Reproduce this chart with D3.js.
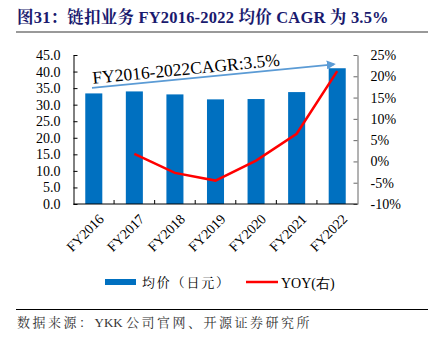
<!DOCTYPE html>
<html><head><meta charset="utf-8">
<script src="https://cdn.jsdelivr.net/npm/d3@7"></script>
<style>body{margin:0;background:#fff}svg{display:block}</style>
</head><body>
<script>
const categories = ["FY2016","FY2017","FY2018","FY2019","FY2020","FY2021","FY2022"];
const avgPrice = [33.4, 34.0, 33.1, 31.6, 31.7, 33.8, 41.0];
const yoy = [null, 1.8, -2.7, -4.5, 0.2, 6.5, 21.2];
const leftTicks = [0,5,10,15,20,25,30,35,40,45];
const rightTicks = [-10,-5,0,5,10,15,20,25];
const titleText = "图31：链扣业务 FY2016-2022 均价 CAGR 为 3.5%";
const cagrText = "FY2016-2022CAGR:3.5%";
const legendBar = "均价（日元）";
const legendLine = "YOY(右)";
const sourceParts = ["数据来源：", "YKK\u00a0", "公司官网、开源证券研究所"];

const W=439,H=342;
const svg=d3.select("body").append("svg").attr("width",W).attr("height",H);
const serif="'Liberation Serif','Times New Roman',serif";
const cjk="'Noto Serif CJK SC','Noto Sans CJK SC',sans-serif";

// title
svg.append("text").attr("x",17).attr("y",23).attr("font-size",16.5).attr("font-weight","bold")
  .attr("fill","#1a1a6e").attr("font-family",serif+","+cjk).attr("letter-spacing",0.2).text(titleText);
svg.append("rect").attr("x",16).attr("y",31).attr("width",412).attr("height",2).attr("fill","#999");

const L=73.5,R=357.5,T=55,B=204;
const x=d3.scaleBand().domain(categories).range([L,R]).paddingInner(0.58).paddingOuter(0.29);
const xb=d3.scaleBand().domain(categories).range([L,R]);
const yL=d3.scaleLinear().domain([0,45]).range([B,T]);
const yR=d3.scaleLinear().domain([-10,25]).range([B,T]);

// bars
svg.selectAll("rect.bar").data(categories).enter().append("rect")
  .attr("x",d=>x(d)).attr("width",x.bandwidth())
  .attr("y",(d,i)=>yL(avgPrice[i])).attr("height",(d,i)=>B-yL(avgPrice[i]))
  .attr("fill","#0070c0");

// left axis
const gl=svg.append("g").attr("transform",`translate(${L},0)`)
  .call(d3.axisLeft(yL).tickValues(leftTicks).tickFormat(d3.format(".1f")).tickSizeInner(-4).tickSizeOuter(0).tickPadding(13));
gl.selectAll("text").attr("font-family",serif).attr("font-size",14).attr("fill","#000");
gl.selectAll("line,path").attr("stroke","#000");

// right axis
const gr=svg.append("g").attr("transform",`translate(${R},0)`)
  .call(d3.axisRight(yR).tickValues(rightTicks).tickFormat(d=>d+"%").tickSizeInner(-4).tickSizeOuter(0).tickPadding(13));
gr.selectAll("text").attr("font-family",serif).attr("font-size",14).attr("fill","#000");
gr.selectAll("line,path").attr("stroke","#666");

// x axis
const gx=svg.append("g").attr("transform",`translate(0,${B})`);
gx.append("line").attr("x1",L).attr("x2",R).attr("stroke","#000");
gx.selectAll("line.t").data(categories.slice(1)).enter().append("line")
  .attr("x1",d=>xb(d)).attr("x2",d=>xb(d)).attr("y1",0).attr("y2",-4).attr("stroke","#000");
gx.selectAll("text").data(categories).enter().append("text")
  .attr("transform",d=>`translate(${xb(d)+xb.bandwidth()/2+4},${9}) rotate(-45)`)
  .attr("text-anchor","end").attr("dy","0.7em").attr("font-family",serif).attr("font-size",14).text(d=>d);

// line
const pts=categories.map((c,i)=>({c,v:yoy[i]})).filter(d=>d.v!==null);
svg.append("path").datum(pts).attr("fill","none").attr("stroke","#ff0000").attr("stroke-width",2.5)
  .attr("d",d3.line().x(d=>x(d.c)+x.bandwidth()/2).y(d=>yR(d.v)));

// CAGR arrow
const ax1=92, ay1=yL(35.1), ax2=334, ay2=yL(42.2);
svg.append("defs").append("marker").attr("id","ah").attr("viewBox","0 0 10 10").attr("refX",8).attr("refY",5)
  .attr("markerWidth",5).attr("markerHeight",5).attr("orient","auto")
  .append("path").attr("d","M0,0 L10,5 L0,10 z").attr("fill","#5b9bd5");
svg.append("line").attr("x1",ax1).attr("y1",ay1).attr("x2",ax2).attr("y2",ay2)
  .attr("stroke","#5b9bd5").attr("stroke-width",1.8).attr("marker-end","url(#ah)");
const ang=Math.atan2(ay2-ay1,ax2-ax1)*180/Math.PI;
svg.append("text").attr("transform",`translate(${ax1+1},${ay1-4}) rotate(${ang})`)
  .attr("font-family",serif).attr("font-size",17.5).attr("fill","#000").text(cagrText);

// legend
svg.append("rect").attr("x",105).attr("y",279).attr("width",31).attr("height",6).attr("fill","#0070c0");
svg.append("text").attr("x",142).attr("y",287).attr("font-family",cjk).attr("font-size",13).attr("letter-spacing",1.8).text(legendBar);
svg.append("line").attr("x1",246).attr("x2",278).attr("y1",282).attr("y2",282).attr("stroke","#ff0000").attr("stroke-width",2.5);
svg.append("text").attr("x",281).attr("y",287.5).attr("font-family",serif).attr("font-size",14).text(legendLine);

// footer
svg.append("line").attr("x1",16).attr("x2",428).attr("y1",309.5).attr("y2",309.5).attr("stroke","#000").attr("stroke-width",1);
const src=svg.append("text").attr("x",17).attr("y",327).attr("font-family",serif+","+cjk).attr("font-size",13).attr("fill","#333");
src.append("tspan").attr("letter-spacing",2.5).text(sourceParts[0]);
src.append("tspan").attr("letter-spacing",0).text(sourceParts[1]);
src.append("tspan").attr("letter-spacing",2.5).text(sourceParts[2]);
</script>
</body></html>
